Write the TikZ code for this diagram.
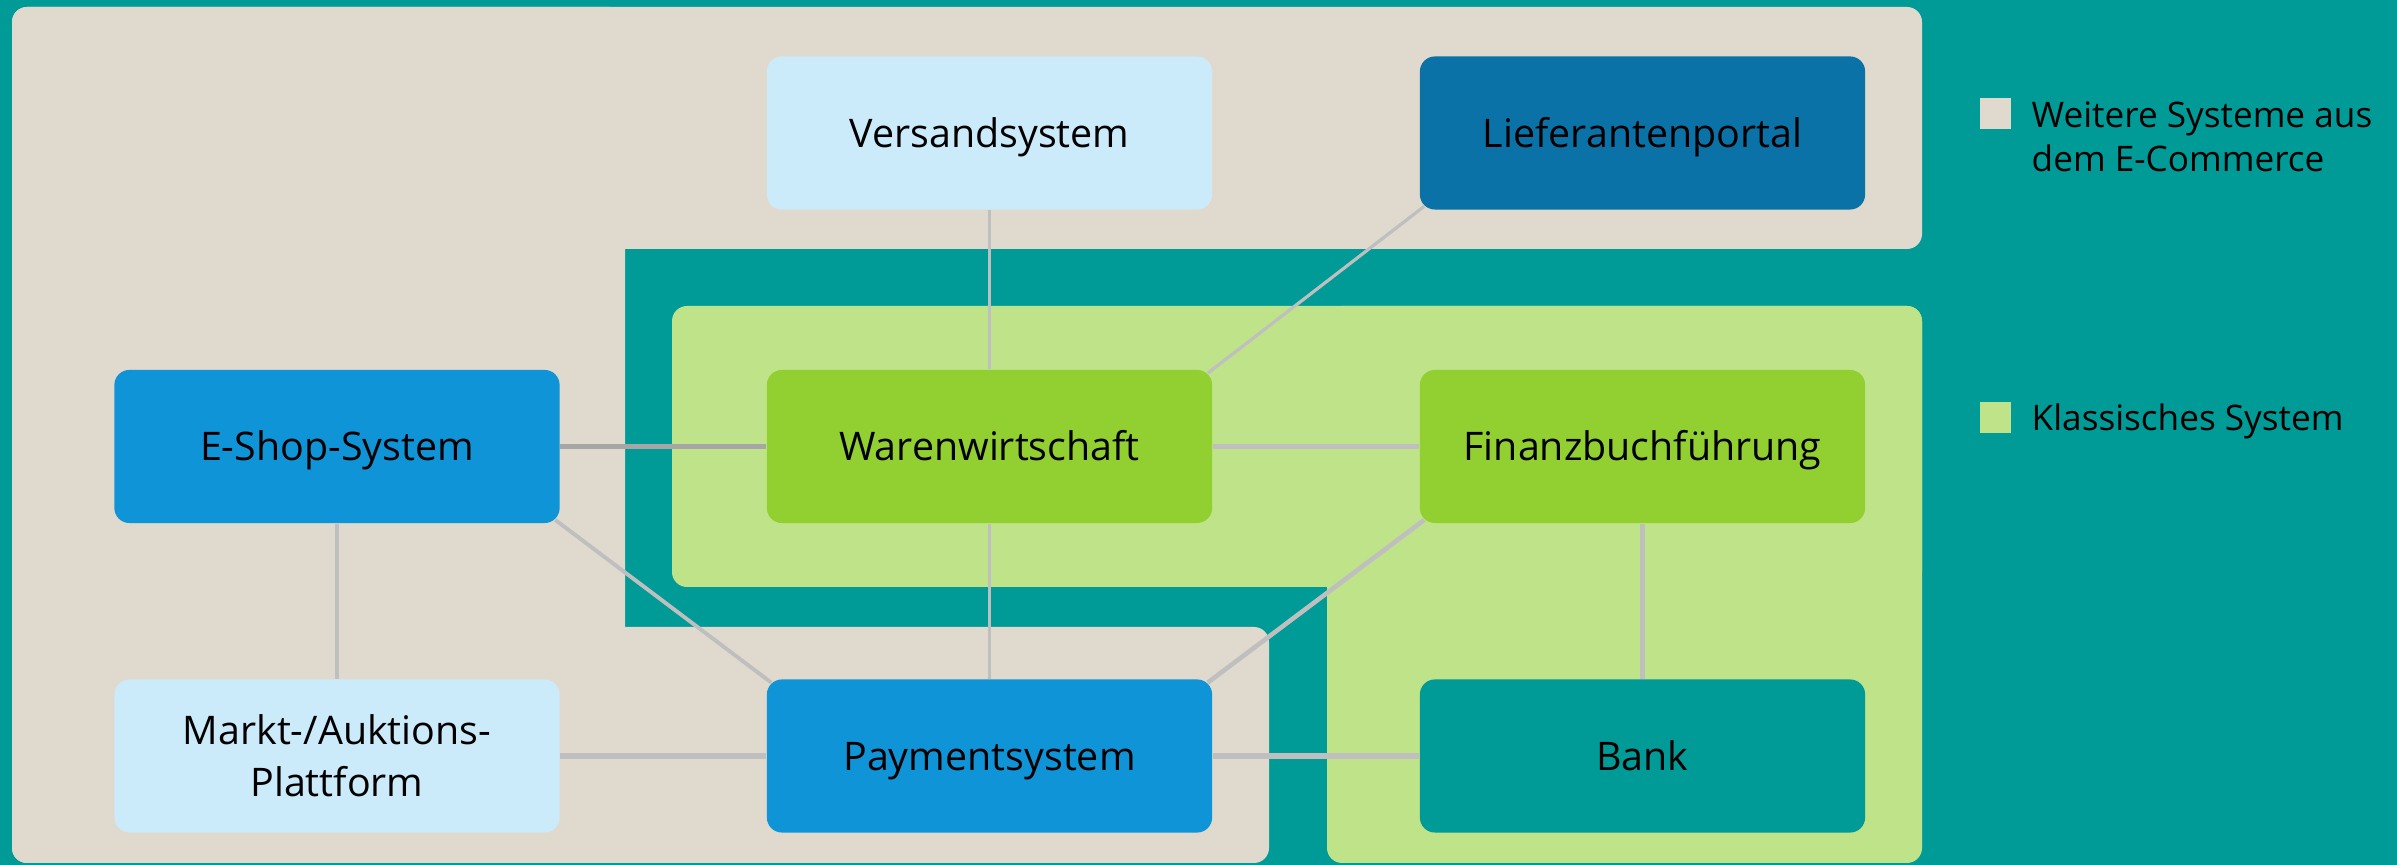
\documentclass[tikz,border=0pt]{standalone}
\usepackage{fontspec}
\setmainfont{Open Sans}
\usepackage{tikz}

\definecolor{bgteal}{HTML}{009A97}
\definecolor{beige}{HTML}{E0D9CD}
\definecolor{lgreen}{HTML}{BEE388}
\definecolor{sysgreen}{HTML}{92D032}
\definecolor{lblue}{HTML}{CBEAFA}
\definecolor{mblue}{HTML}{1094D8}
\definecolor{dblue}{HTML}{0B72A7}
\definecolor{conngray}{HTML}{BFBFBF}
\definecolor{conndark}{HTML}{A6A6A6}

\begin{document}
\begin{tikzpicture}
      [   x=0.01cm, y=-0.01cm,
          sbox/.style={fill=#1,rounded corners=0.15cm,minimum width=4.45cm,minimum height=1.53cm,
                       inner sep=0pt,align=center,font=\fontsize{11.2}{14.8}\selectfont,
                       text height=8pt,text depth=0pt},
          lsq/.style={fill=#1,minimum size=0.31cm,inner sep=0pt},
          ltext/.style={font=\fontsize{10}{12.5}\selectfont,inner sep=0pt,align=left},
          conn/.style={draw=conngray,line width=#1},
          conn/.default=1.1pt,
          cut/.style={shorten <=-1.8pt,shorten >=-1.8pt},
      ]
          \useasboundingbox (0,0) rectangle (2397,865);
          \fill[bgteal] (0,0) rectangle (2397,865);

          % areas
          \fill[beige,rounded corners=0.15cm] (12,7) rectangle (1922,249);
          \fill[beige,rounded corners=0.15cm] (12,7) rectangle (625,863);
          \fill[beige,rounded corners=0.15cm] (12,627) rectangle (1269,863);
          \fill[lgreen,rounded corners=0.15cm] (672,306) rectangle (1922,587);
          \fill[lgreen,rounded corners=0.15cm] (1327,306) rectangle (1922,863);

          % systems
          \node[sbox=lblue] (versand) at (989.5,133) {Versandsystem};
          \node[sbox=dblue] (lief) at (1642.5,133) {Lieferantenportal};
          \node[sbox=mblue] (eshop) at (337,446.5) {E-Shop-System};
          \node[sbox=sysgreen] (waren) at (989.5,446.5) {Warenwirtschaft};
          \node[sbox=sysgreen] (finanz) at (1642.5,446.5) {Finanzbuchführung};
          \node[sbox=lblue,text height=22.8pt] (markt) at (337,756) {Markt-/Auktions-\\Plattform};
          \node[sbox=mblue] (pay) at (989.5,756) {Paymentsystem};
          \node[sbox=bgteal] (bank) at (1642.5,756) {Bank};

          % links
          \draw[conn] (versand) -- (waren);
          \draw[conn=0.9pt,cut] (lief.south west) -- (waren.north east);
          \draw[conn=1.6pt,draw=conndark] (eshop) -- (waren);
          \draw[conn=1.6pt] (waren) -- (finanz);
          \draw[conn] (waren) -- (pay);
          \draw[conn=1.3pt] (eshop) -- (markt);
          \draw[conn,cut] (eshop.south east) -- (pay.north west);
          \draw[conn=1.3pt,cut] (finanz.south west) -- (pay.north east);
          \draw[conn=1.6pt] (finanz) -- (bank);
          \draw[conn=1.6pt] (markt) -- (pay);
          \draw[conn=1.6pt] (pay) -- (bank);

          % legend
          \node[lsq=beige] (sqweit) at (1995.5,113.5) {};
          \node[ltext,anchor=north west] (txweit) at (2031,101) {Weitere Systeme aus\\dem E-Commerce};
          \node[lsq=lgreen] (sqklass) at (1995.5,417.5) {};
          \node[ltext,anchor=base west] (txklass) at (2031,431) {Klassisches System};
    \end{tikzpicture}
\end{document}
